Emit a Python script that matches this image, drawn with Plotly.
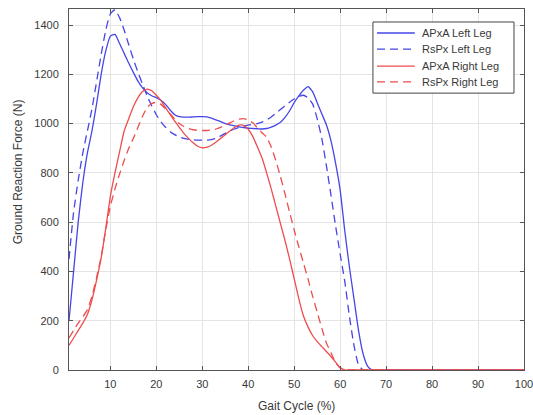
import plotly.graph_objects as go

gait_x = list(range(1, 71)) + [100]

apxa_left = [200, 400, 600, 760, 880, 970, 1080, 1200, 1295, 1355,
             1362, 1325, 1285, 1245, 1208, 1172, 1145, 1125, 1113, 1105,
             1095, 1078, 1055, 1036, 1028, 1026, 1026, 1027, 1028, 1028,
             1027, 1022, 1015, 1008, 1000, 995, 991, 987, 984, 981,
             980, 979, 978, 980, 986, 994, 1005, 1025, 1052, 1085,
             1112, 1135, 1150, 1130, 1085, 1040, 995, 930, 840, 730,
             565, 420, 290, 160, 65, 15, 0, 0, 0, 0, 0]

rspx_left = [450, 640, 770, 880, 970, 1060, 1170, 1280, 1380, 1445,
             1462, 1430, 1380, 1320, 1262, 1208, 1160, 1112, 1072, 1036,
             1008, 985, 967, 955, 946, 940, 936, 934, 933, 933,
             933, 935, 940, 950, 960, 970, 978, 984, 990, 994,
             997, 1000, 1006, 1015, 1027, 1042, 1057, 1072, 1087, 1100,
             1110, 1115, 1105, 1080, 1020, 940, 830, 710, 585, 470,
             360, 220, 100, 20, 0, 0, 0, 0, 0, 0, 0]

apxa_right = [100, 130, 160, 190, 225, 285, 365, 455, 575, 705,
              800, 885, 970, 1020, 1068, 1105, 1130, 1140, 1133, 1115,
              1093, 1065, 1037, 1010, 985, 960, 940, 922, 908, 902,
              904, 912, 925, 940, 955, 970, 984, 994, 993, 977,
              947, 905, 860, 800, 735, 665, 595, 525, 450, 370,
              290, 220, 175, 140, 115, 95, 75, 55, 32, 10,
              0, 0, 0, 0, 0, 0, 0, 0, 0, 0, 0]

rspx_right = [130, 160, 190, 215, 245, 300, 375, 460, 570, 665,
              735, 795, 850, 900, 940, 985, 1030, 1065, 1082, 1086,
              1078, 1060, 1040, 1018, 1000, 988, 980, 975, 973, 972,
              972, 974, 978, 985, 993, 1003, 1012, 1018, 1020, 1015,
              1003, 982, 963, 945, 905, 850, 785, 715, 640, 568,
              500, 435, 370, 300, 235, 170, 110, 70, 30, 8,
              0, 0, 0, 0, 0, 0, 0, 0, 0, 0, 0]

series_names = ["APxA Left Leg", "RsPx Left Leg", "APxA Right Leg", "RsPx Right Leg"]
x_ticks = [10, 20, 30, 40, 50, 60, 70, 80, 90, 100]
y_ticks = [0, 200, 400, 600, 800, 1000, 1200, 1400]

BLUE = "#4646e8"
RED = "#ee4d4d"
DASH = "8px,5px"
TXT = "#3a3a3a"
FONT = "Liberation Sans, Arial, sans-serif"

fig = go.Figure()
styles = [(apxa_left, BLUE, "solid"), (rspx_left, BLUE, DASH),
          (apxa_right, RED, "solid"), (rspx_right, RED, DASH)]
for name, (ys, col, dash) in zip(series_names, styles):
    fig.add_trace(go.Scatter(
        x=gait_x, y=ys, mode="lines", name=name, showlegend=False,
        line=dict(color=col, width=1.3, dash=dash, shape="spline", smoothing=0.5),
    ))

axis_common = dict(
    showline=True, linecolor="#555555", linewidth=1, mirror="ticks",
    ticks="inside", ticklen=4, tickcolor="#555555",
    showgrid=True, gridcolor="#e4e4e4", gridwidth=1, zeroline=False,
    tickfont=dict(family=FONT, size=11, color=TXT),
    ticklabeloverflow="allow", automargin=False,
)

fig.update_xaxes(range=[1, 100], tickvals=x_ticks, ticklabelstandoff=4, **axis_common)
fig.update_yaxes(range=[0, 1465], tickvals=y_ticks, ticklabelstandoff=7, **axis_common)

# MATLAB-style legend box drawn in paper coordinates
legend_box = dict(x0=0.668, x1=0.978, y0=0.767, y1=0.964)
legend_rows = [0.9335, 0.889, 0.842, 0.798]
shapes = [dict(type="rect", xref="paper", yref="paper", layer="above",
               fillcolor="white", line=dict(color="#444444", width=1), **legend_box)]
annotations = []
for (ys, col, dash), name, yr in zip(styles, series_names, legend_rows):
    shapes.append(dict(type="line", xref="paper", yref="paper", layer="above",
                       x0=0.677, x1=0.760, y0=yr, y1=yr,
                       line=dict(color=col, width=1.3, dash=dash)))
    annotations.append(dict(text=name, xref="paper", yref="paper", x=0.771, y=yr,
                            xanchor="left", yanchor="middle", showarrow=False,
                            font=dict(family=FONT, size=11, color=TXT)))

annotations += [
    dict(text="Gait Cycle (%)", xref="paper", yref="paper", x=0.5, y=-0.1,
         xanchor="center", yanchor="middle", showarrow=False,
         font=dict(family=FONT, size=12, color=TXT)),
    dict(text="Ground Reaction Force (N)", xref="paper", yref="paper",
         x=-0.112, y=0.548, xanchor="center", yanchor="middle", textangle=-90,
         showarrow=False, font=dict(family=FONT, size=12, color=TXT)),
]

fig.update_layout(
    width=533, height=415,
    margin=dict(l=69, r=9, t=9, b=45, autoexpand=False),
    paper_bgcolor="white", plot_bgcolor="white",
    font=dict(family=FONT, color=TXT),
    showlegend=False,
    shapes=shapes,
    annotations=annotations,
)

fig.write_html("out.html", config={"displayModeBar": False},
               post_script="document.body.style.margin='0px';")
